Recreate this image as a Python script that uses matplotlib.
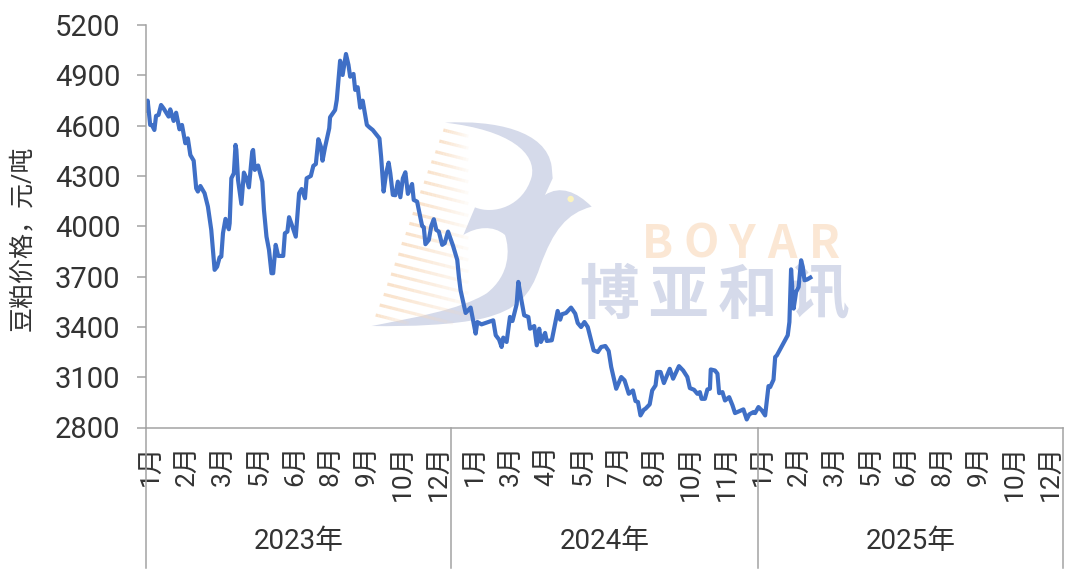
import matplotlib
matplotlib.use('Agg')
import matplotlib.pyplot as plt
from matplotlib.patches import PathPatch, Circle
from matplotlib.path import Path

plt.rcParams['font.family'] = ['Roboto', 'Noto Sans CJK SC', 'DejaVu Sans']

# Precio de la harina de soja: dias desde 2023-01-01 y yuan/tonelada
dias = [0, 2, 5, 7, 10, 12, 15, 18, 21, 27, 29, 33, 36, 40, 43, 47, 50, 53, 57, 60, 62, 65, 70, 74, 78,
        82, 85, 88, 90, 92, 95, 99, 100, 102, 105, 107, 108, 110, 114, 117, 120, 123, 127, 128, 130,
        134, 139, 141, 144, 147, 150, 152, 155, 158, 164, 166, 169, 171, 175, 179, 183, 186, 190, 192,
        197, 200, 203, 206, 209, 211, 214, 219, 220, 226, 228, 232, 235, 239, 242, 244, 248, 250, 253,
        256, 259, 264, 267, 271, 279, 281, 284, 287, 290, 292, 295, 298, 301, 304, 307, 310, 313, 318,
        320, 324, 330, 332, 334, 338, 341, 344, 347, 350, 354, 357, 361, 367, 372,
        374, 376, 382, 388, 394, 396, 401, 415, 418, 422, 425, 427, 431, 435, 438, 443, 445, 448, 452,
        457, 459, 464, 467, 470, 472, 477, 479, 485, 492, 495, 497, 502, 508, 513, 516, 520, 524, 528,
        532, 535, 540, 544, 549, 553, 556, 562, 568, 572, 577, 582, 585, 588, 591, 595,
        597, 602, 605, 609, 611, 615, 619, 626, 630, 637, 642, 647, 650, 655, 659, 662, 664, 668, 671,
        674, 675, 680, 683, 685, 689, 692, 697, 701, 704, 714, 718, 721, 726, 728, 732, 736, 740, 744,
        746, 750, 752, 754, 767, 769, 771, 774, 777, 780, 783, 785, 787, 790, 794]
precios = [4690, 4749, 4604, 4604, 4574, 4658, 4664, 4723, 4703, 4654, 4697, 4628, 4677, 4578, 4604, 4495,
           4524, 4425, 4391, 4226, 4207, 4240, 4197, 4117, 3978,
           3740, 3759, 3815, 3819, 3958, 4044, 3982, 4018, 4286, 4316, 4485, 4455, 4276, 4133, 4320, 4286,
           4232, 4445, 4455, 4336,
           4362, 4266, 4097, 3938, 3859, 3720, 3720, 3889, 3823, 3823, 3958, 3968, 4054, 3998, 3938, 4197,
           4222, 4167, 4286,
           4300, 4360, 4371, 4519, 4475, 4391, 4471, 4584, 4650, 4693, 4753, 4987, 4902, 5027, 4962, 4892,
           4908, 4813, 4829,
           4707, 4749, 4604, 4590, 4574, 4524, 4415, 4207, 4316, 4379, 4316, 4187, 4185, 4266, 4173, 4286,
           4322, 4193, 4252,
           4157, 4147, 4002, 3994, 3893, 3918, 4002, 4042, 3978, 3968, 3889, 3899, 3968, 3883, 3799,
           3698, 3618, 3483, 3515, 3360, 3429, 3415, 3439, 3350, 3324, 3280, 3336, 3310, 3459, 3435, 3535,
           3668, 3578, 3469,
           3459, 3389, 3405, 3290, 3389, 3310, 3364, 3316, 3320, 3495, 3443, 3475, 3483, 3515, 3479, 3423,
           3399, 3429, 3399,
           3320, 3260, 3250, 3280, 3286, 3256, 3161, 3031, 3101, 3081, 3001, 3021, 2958, 2952, 2872, 2906,
           2912, 2938, 3021, 3051, 3131, 3131, 3065, 3150, 3091, 3166, 3140, 3101, 3035, 3025, 3001, 3011,
           2971, 2971, 3027,
           3031, 3146, 3140, 3121, 3005, 3011, 2961, 2981, 2932, 2886, 2908, 2848, 2878, 2892, 2886, 2922,
           2902, 2872, 3047,
           3041, 3085, 3220, 3230, 3350, 3429, 3743, 3509, 3608, 3638, 3797, 3757, 3678, 3682, 3694]

# Etiquetas del eje x
dias_ticks = [7, 50, 93, 136, 179, 222, 265, 308, 351, 394, 437, 480, 523, 566, 609, 652, 695,
              738, 781, 824, 867, 910, 953, 996, 1039, 1082]
meses = ['1月', '2月', '3月', '5月', '6月', '8月', '9月', '10月', '12月',
         '1月', '3月', '4月', '5月', '7月', '8月', '10月', '11月',
         '1月', '2月', '3月', '5月', '6月', '8月', '9月', '10月', '12月']
anios = ['2023年', '2024年', '2025年']
limites_anio = [0, 365, 731, 1096]
ticks_y = [2800, 3100, 3400, 3700, 4000, 4300, 4600, 4900, 5200]

GRIS = '#A3A3A3'
TEXTO = '#333333'

fig = plt.figure(figsize=(10.8, 5.82), dpi=100)

# Capa de fondo en pixeles para la marca de agua
fondo = fig.add_axes([0, 0, 1, 1], zorder=0)
fondo.set_xlim(0, 1080)
fondo.set_ylim(582, 0)
fondo.axis('off')


def zona(zx, zy):
    return 360 + zx / 3, 110 + zy / 3


# Rayas naranjas que se desvanecen hacia la derecha
rayas = [(250, 60), (238, 93), (226, 125), (214, 155), (203, 185), (192, 216), (181, 245), (170, 278),
         (158, 310), (148, 340), (137, 370), (125, 400), (115, 432), (104, 462), (93, 492), (82, 522),
         (71, 553), (59, 585), (47, 615)]
for zx, zy in rayas:
    pasos = 12
    largo = min(325 - zx, (640 - zy) / 0.25)
    for k in range(pasos):
        a = zona(zx + largo * k / pasos, zy + 0.25 * largo * k / pasos)
        b = zona(zx + largo * (k + 1) / pasos, zy + 0.25 * largo * (k + 1) / pasos)
        fondo.plot([a[0], b[0]], [a[1], b[1]], color='#F8D9BA', lw=2.3, solid_capstyle='butt',
                   alpha=max(0.75 * (1 - (k / pasos)) ** 0.8, 0.03))

# Silueta del pajaro
C = Path.CURVE4
L = Path.LINETO
trazo = [((255, 38), Path.MOVETO),
         ((400, 30), C), ((560, 60), C), ((575, 170), C),
         ((578, 205), L), ((555, 255), L),
         ((600, 225), C), ((650, 245), C), ((695, 290), C),
         ((620, 310), C), ((580, 360), C), ((540, 470), C),
         ((510, 560), C), ((470, 600), C), ((370, 625), C),
         ((280, 645), C), ((150, 650), C), ((35, 648), C),
         ((150, 625), C), ((300, 600), C), ((380, 550), C),
         ((450, 495), C), ((450, 420), C), ((435, 375), C),
         ((400, 345), C), ((350, 350), C), ((310, 375), C),
         ((345, 292), L),
         ((400, 315), C), ((490, 290), C), ((515, 200), C),
         ((530, 130), C), ((450, 60), C), ((255, 38), C)]
puntos = [zona(*p) for p, _ in trazo]
codigos = [c for _, c in trazo]
fondo.add_patch(PathPatch(Path(puntos, codigos), facecolor='#D5DAEA', edgecolor='none'))
fondo.add_patch(Circle(zona(632, 267), 3.2, facecolor='#FBF3BF', edgecolor='none'))

for letra, px in zip('BOYAR', [658, 701, 742, 782, 824]):
    fondo.text(px, 245, letra, color='#FBE7D4', fontsize=33, fontweight='bold',
               family=['Noto Sans CJK SC'], ha='center', va='center')
for letra, px in zip('博亚和讯', [609, 678, 748, 820]):
    fondo.text(px, 297, letra, color='#D5DAEA', fontsize=43, fontweight='bold',
               family=['Noto Sans CJK SC'], ha='center', va='center')

# Grafico principal
ax = fig.add_axes([146 / 1080, 1 - 427.5 / 582, 917 / 1080, 402.5 / 582], zorder=1)
ax.patch.set_alpha(0)
ax.plot(dias, precios, color='#3F6FC6', lw=3.0, solid_joinstyle='round')
ax.set_xlim(limites_anio[0], limites_anio[-1])
ax.set_ylim(2800, 5200)

ax.spines['top'].set_visible(False)
ax.spines['right'].set_visible(False)
for lado in ['left', 'bottom']:
    ax.spines[lado].set_color(GRIS)
    ax.spines[lado].set_linewidth(1.1)

ax.set_yticks(ticks_y)
ax.tick_params(axis='y', length=6.5, width=1.1, color=GRIS, labelsize=21, labelcolor=TEXTO, pad=12)
ax.set_xticks(dias_ticks)
ax.set_xticklabels(meses, rotation=90, fontsize=19, color=TEXTO, va='top', ha='center')
ax.tick_params(axis='x', length=0, pad=12.5)

# Separadores y etiquetas de los anios
trans = ax.get_xaxis_transform()
for lim in limites_anio:
    ax.plot([lim, lim], [0, -0.35], color=GRIS, lw=1.1, transform=trans, clip_on=False)
for i, anio in enumerate(anios):
    centro = (limites_anio[i] + limites_anio[i + 1]) / 2
    ax.text(centro, -0.283, anio, transform=trans, fontsize=20, color=TEXTO, ha='center', va='center')

fig.text(22 / 1080, 1 - 238 / 582, '豆粕价格，元/吨', rotation=90, fontsize=18, color=TEXTO,
         ha='center', va='center')

fig.savefig('out.png', dpi=100, facecolor='white')
